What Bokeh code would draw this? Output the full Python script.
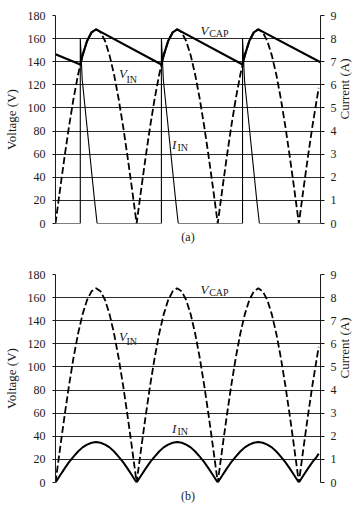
import math
from bokeh.plotting import figure
from bokeh.models import Range1d, LinearAxis, FixedTicker, Label, Title
from bokeh.layouts import column
from bokeh.embed import file_html
from bokeh.resources import INLINE

# ---------------- data (x = phase angle in degrees) ----------------
volt_ticks = [0, 20, 40, 60, 80, 100, 120, 140, 160, 180]
amp_ticks = [0, 1, 2, 3, 4, 5, 6, 7, 8, 9]

phase_deg = [0, 10, 20, 30, 40, 50, 60, 70, 80, 90, 100, 110, 120, 130, 140, 150, 160, 170,
             180, 190, 200, 210, 220, 230, 240, 250, 260, 270, 280, 290, 300, 310, 320, 330, 340, 350,
             360, 370, 380, 390, 400, 410, 420, 430, 440, 450, 460, 470, 480, 490, 500, 510, 520, 530,
             540, 550, 560, 570, 580, 584]
v_in = [0, 29.2, 57.5, 84.0, 108.0, 128.7, 145.5, 157.9, 165.4, 168.0, 165.4, 157.9, 145.5, 128.7, 108.0, 84.0, 57.5, 29.2,
        0, 29.2, 57.5, 84.0, 108.0, 128.7, 145.5, 157.9, 165.4, 168.0, 165.4, 157.9, 145.5, 128.7, 108.0, 84.0, 57.5, 29.2,
        0, 29.2, 57.5, 84.0, 108.0, 128.7, 145.5, 157.9, 165.4, 168.0, 165.4, 157.9, 145.5, 128.7, 108.0, 84.0, 57.5, 29.2,
        0, 29.2, 57.5, 84.0, 108.0, 117.3]
# (b) input current, amperes
i_in_b = [0, 0.30, 0.60, 0.88, 1.12, 1.34, 1.52, 1.64, 1.72, 1.75, 1.72, 1.64, 1.52, 1.34, 1.12, 0.88, 0.60, 0.30,
          0, 0.30, 0.60, 0.88, 1.12, 1.34, 1.52, 1.64, 1.72, 1.75, 1.72, 1.64, 1.52, 1.34, 1.12, 0.88, 0.60, 0.30,
          0, 0.30, 0.60, 0.88, 1.12, 1.34, 1.52, 1.64, 1.72, 1.75, 1.72, 1.64, 1.52, 1.34, 1.12, 0.88, 0.60, 0.30,
          0, 0.30, 0.60, 0.88, 1.12, 1.25]

# (a) capacitor voltage
vcap_deg = [0, 55, 60, 70, 80, 90, 235, 240, 250, 260, 270, 415, 420, 430, 440, 450, 588]
v_cap = [146.5, 137.6, 145.5, 157.9, 165.4, 168.0, 137.6, 145.5, 157.9, 165.4, 168.0,
         137.6, 145.5, 157.9, 165.4, 168.0, 139.5]
# (a) input current pulses, amperes
iin_a_deg = [0, 55, 55, 59.4, 86.6, 92.4, 235, 235, 239.4, 266.6, 272.4, 415, 415, 419.4, 446.6, 452.4, 588]
i_in_a = [0, 0, 8.0, 6.2, 1.0, 0, 0, 8.0, 6.2, 1.0, 0, 0, 8.0, 6.2, 1.0, 0, 0]

X_END = 588
SERIF = "Liberation Serif"
INK = "#1a1a1a"


def base_fig(height, top, caption):
    frame_h = 208
    bottom = height - top - frame_h
    p = figure(width=362, height=height, x_range=Range1d(0, X_END), y_range=Range1d(0, 180),
               output_backend="svg", toolbar_location=None,
               min_border_left=53, min_border_right=42, min_border_top=top, min_border_bottom=bottom)
    p.outline_line_color = None
    p.background_fill_color = "white"
    p.border_fill_color = "white"
    p.xaxis.visible = False
    p.xgrid.visible = False
    p.ygrid.ticker = FixedTicker(ticks=volt_ticks)
    p.ygrid.grid_line_color = "#2a2a2a"
    p.ygrid.grid_line_width = 1

    ya = p.yaxis[0]
    ya.ticker = FixedTicker(ticks=volt_ticks)
    ya.axis_label = "Voltage (V)"
    ya.axis_line_color = INK
    ya.major_tick_out = 3
    ya.major_tick_in = 0
    ya.major_tick_line_color = INK
    ya.minor_tick_line_color = None
    ya.major_label_standoff = 7
    ya.axis_label_standoff = 6
    ya.major_label_text_font = SERIF
    ya.major_label_text_font_size = "12px"
    ya.major_label_text_color = INK
    ya.axis_label_text_font = SERIF
    ya.axis_label_text_font_size = "13px"
    ya.axis_label_text_font_style = "normal"
    ya.axis_label_text_color = INK

    p.extra_y_ranges = {"amp": Range1d(0, 9)}
    ra = LinearAxis(y_range_name="amp", ticker=FixedTicker(ticks=amp_ticks), axis_label="Current (A)")
    ra.axis_line_color = INK
    ra.major_tick_out = 4
    ra.major_tick_in = 0
    ra.major_tick_line_color = INK
    ra.minor_tick_line_color = None
    ra.major_label_standoff = 6
    ra.axis_label_standoff = 5
    ra.major_label_text_font = SERIF
    ra.major_label_text_font_size = "12px"
    ra.major_label_text_color = INK
    ra.axis_label_text_font = SERIF
    ra.axis_label_text_font_size = "13px"
    ra.axis_label_text_font_style = "normal"
    ra.axis_label_text_color = INK
    ra.axis_label_orientation = math.pi / 2
    p.add_layout(ra, "right")

    t = Title(text=caption, align="center", text_font=SERIF, text_font_size="12px",
              text_font_style="normal", text_color=INK, standoff=8, offset=0)
    p.add_layout(t, "below")
    return p


def sub_label(p, x, y, main, sub, xs, ys):
    p.add_layout(Label(x=x, y=y, text=main, text_font=SERIF, text_font_size="13px",
                       text_font_style="italic", text_color=INK, text_baseline="alphabetic"))
    p.add_layout(Label(x=xs, y=ys, text=sub, text_font=SERIF, text_font_size="10px",
                       text_font_style="normal", text_color=INK, text_baseline="alphabetic"))


# ---------------- (a) ----------------
pa = base_fig(250, 15, "(a)")
pa.line(phase_deg, v_in, line_color="black", line_width=1.8, line_dash="7 3")
pa.line(vcap_deg, v_cap, line_color="black", line_width=2.2)
pa.line(iin_a_deg, i_in_a, y_range_name="amp", line_color="black", line_width=1.1)
sub_label(pa, 322, 166.8, "V", "CAP", 341, 164.2)
sub_label(pa, 140.7, 129.5, "V", "IN", 157.6, 125.0)
sub_label(pa, 258.7, 68.4, "I", "IN", 270.8, 65.8)

# ---------------- (b) ----------------
pb = base_fig(257, 24, "(b)")
pb.line(phase_deg, v_in, line_color="black", line_width=1.8, line_dash="7 3")
pb.line(phase_deg, i_in_b, y_range_name="amp", line_color="black", line_width=2.0)
sub_label(pb, 322, 167.3, "V", "CAP", 341, 164.6)
sub_label(pb, 140.7, 126.6, "V", "IN", 157.6, 122.0)
sub_label(pb, 258.7, 47.0, "I", "IN", 270.8, 44.4)

layout = column(pa, pb, spacing=0)
open("out.html", "w").write(file_html(layout, INLINE))
